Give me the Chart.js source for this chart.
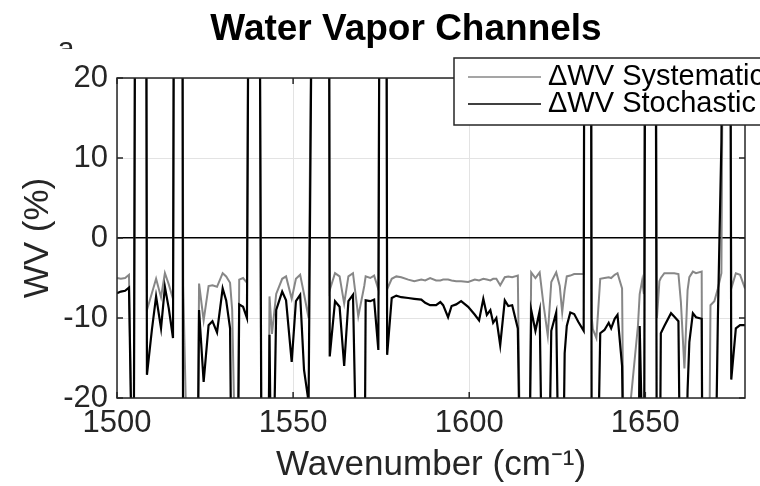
<!DOCTYPE html>
<html>
<head>
<meta charset="utf-8">
<title>Water Vapor Channels</title>
<script src="https://cdn.jsdelivr.net/npm/chart.js"></script>
<style>
  body { margin: 0; background: #fff; }
  canvas { display: block; }
</style>
</head>
<body>
<canvas id="wvGraph" width="760" height="486"></canvas>
<script>
// Channel wavenumbers (cm^-1) with the systematic and stochastic WV errors (%).
// +60 / -40 stand for channels that run far outside the plotted range.
const wavenumbers = [
  1500.0, 1501.1, 1502.3, 1503.4, 1504.7, 1505.3, 1508.2, 1508.5, 1509.9, 1511.1,
  1512.5, 1513.6, 1514.7, 1515.9, 1516.3, 1518.5, 1518.8, 1520.5, 1522.7, 1523.3,
  1524.6, 1526.0, 1527.1, 1528.4, 1530.0, 1531.0, 1532.1, 1532.7, 1534.1, 1534.7,
  1535.8, 1536.9, 1537.6, 1540.3, 1541.1, 1542.8, 1543.3, 1544.0, 1545.2, 1546.9,
  1548.0, 1549.6, 1550.8, 1552.0, 1553.1, 1554.4, 1555.8, 1560.1, 1560.4, 1561.9,
  1563.2, 1564.5, 1565.7, 1567.0, 1568.5, 1570.2, 1570.6, 1571.9, 1573.0, 1574.2,
  1574.7, 1576.4, 1576.7, 1578.0, 1579.3, 1580.7, 1582.7, 1584.4, 1586.4, 1587.5,
  1588.9, 1590.6, 1591.8, 1592.6, 1594.0, 1595.0, 1596.3, 1597.7, 1599.7, 1601.6,
  1602.8, 1604.0, 1605.0, 1606.0, 1606.8, 1607.7, 1608.8, 1610.1, 1611.1, 1612.2,
  1613.8, 1614.8, 1616.8, 1617.6, 1618.8, 1620.0, 1621.0, 1622.3, 1623.3, 1624.7,
  1625.7, 1626.4, 1627.1, 1627.7, 1628.7, 1629.8, 1631.0, 1632.5, 1632.8, 1634.5,
  1634.8, 1635.1, 1636.1, 1637.2, 1638.4, 1639.6, 1640.3, 1641.3, 1642.1, 1643.4,
  1644.1, 1645.7, 1647.9, 1648.4, 1649.1, 1649.6, 1650.1, 1652.8, 1653.3, 1654.0,
  1654.4, 1655.4, 1657.3, 1658.2, 1659.4, 1660.1, 1661.1, 1662.0, 1662.5, 1663.5,
  1664.4, 1666.0, 1666.3, 1668.2, 1668.5, 1669.6, 1670.6, 1671.6, 1672.4, 1674.0,
  1674.4, 1675.7, 1676.9, 1678.3,
];

const systematic = [
  -5.0, -5.1, -5.0, -4.6, -40, 60, 60, -9.0, -6.9, -5.1,
  -7.4, -4.4, -5.8, -7.6, 60, 60, -6.0, -40, -40, -5.7,
  -10.3, -6.0, -5.9, -6.1, -4.4, -4.8, -5.6, -9.0, -40, -5.2,
  -5.0, -5.6, 60, 60, -40, -40, -7.3, -12.0, -7.0, -5.1,
  -4.8, -7.6, -5.1, -4.6, -7.0, -10.0, 60, 60, -6.5, -4.4,
  -4.8, -8.2, -4.8, -4.4, -9.8, -6.0, -4.8, -5.0, -4.7, -6.4,
  60, 60, -6.4, -5.1, -4.8, -4.9, -5.2, -5.4, -5.2, -5.3,
  -5.0, -5.3, -5.3, -5.2, -5.2, -5.3, -5.4, -5.4, -5.5, -5.2,
  -5.3, -5.1, -5.2, -5.3, -5.1, -5.1, -5.9, -4.9, -4.8, -4.9,
  -4.7, -40, -40, -4.3, -5.0, -4.3, -8.0, -12.2, -5.5, -4.3,
  -6.0, -9.3, -6.5, -4.8, -4.7, -4.5, -4.5, -4.5, 60, 60,
  -10.0, -11.4, -12.5, -5.1, -5.0, -4.9, -5.0, -4.6, -4.4, -6.3,
  -40, -21.0, -11.0, -7.0, -5.3, -7.0, 60, 60, -10.0, -5.4,
  -5.0, -4.4, -4.4, -4.4, -4.5, -8.0, -16.3, -6.5, -4.9, -4.2,
  -4.4, -4.2, -40, -25.0, -8.4, -7.9, -6.3, -4.4, 60, 60,
  -6.3, -4.4, -4.6, -6.3,
];

const stochastic = [
  -6.9, -6.7, -6.6, -6.2, -40, 60, 60, -17.1, -11.5, -7.3,
  -11.3, -6.1, -8.8, -12.5, 60, 60, -40, -40, -40, -9.0,
  -18.0, -10.9, -10.4, -11.8, -6.3, -7.8, -11.3, -40, -40, -8.3,
  -8.6, -10.0, 60, 60, -40, -40, -12.1, -40, -9.0, -6.7,
  -7.8, -15.5, -7.9, -7.1, -16.5, -20.5, 60, 60, -14.8, -7.9,
  -8.6, -16.0, -7.9, -7.1, -40, -40, -7.8, -7.9, -7.7, -14.0,
  60, 60, -14.6, -7.5, -7.2, -7.4, -7.5, -7.6, -7.7, -8.1,
  -8.4, -8.4, -8.0, -8.4, -9.9, -8.5, -8.3, -7.9, -8.6, -9.6,
  -10.3, -7.6, -9.6, -9.0, -10.6, -10.0, -13.4, -7.8, -8.5, -8.4,
  -11.3, -40, -40, -9.0, -11.6, -9.1, -40, -40, -11.6, -9.3,
  -40, -40, -14.4, -11.0, -9.3, -9.5, -10.5, -11.6, 60, 60,
  -40, -40, -40, -11.9, -11.5, -10.6, -11.3, -10.1, -9.6, -16.0,
  -40, -40, -40, -11.0, -25.0, -40, 60, 60, -40, -40,
  -11.9, -11.0, -9.4, -9.8, -10.4, -40, -40, -19.0, -13.0, -9.4,
  -9.9, -10.1, -40, -40, -40, -40, -10.0, 12.0, 60, 60,
  -17.7, -11.3, -10.9, -10.9,
];

const xTicks = [1500, 1550, 1600, 1650];
const yTicks = [-20, -10, 0, 10, 20];
const xRange = [1500, 1678.3];
const yRange = [-20, 20];

const FONT = "Helvetica, Arial, 'Liberation Sans', sans-serif";
const AXIS_COLOR = "#262626";
const GRID_COLOR = "#e3e3e3";

// Pair each wavenumber with its value
function toPoints(values) {
  return wavenumbers.map((x, i) => ({ x: x, y: values[i] }));
}

// Title plus the clipped panel letter in the top left corner
const titlePlugin = {
  id: "plotTitle",
  afterDraw(chart) {
    const ctx = chart.ctx;
    ctx.save();
    ctx.fillStyle = "#000";
    ctx.font = "bold 37px " + FONT;
    ctx.textAlign = "center";
    ctx.textBaseline = "middle";
    ctx.fillText("Water Vapor Channels", 406, 30);

    ctx.beginPath();
    ctx.rect(40, 30, 50, 19);
    ctx.clip();
    ctx.font = "30px " + FONT;
    ctx.fillStyle = AXIS_COLOR;
    ctx.textBaseline = "alphabetic";
    ctx.fillText("a", 66, 58);
    ctx.restore();
  },
};

// Box round the axes with short inward tick marks on all four sides
const framePlugin = {
  id: "frame",
  afterDatasetsDraw(chart) {
    const { ctx, chartArea: a, scales } = chart;
    const len = 6;
    ctx.save();
    ctx.strokeStyle = AXIS_COLOR;
    ctx.lineWidth = 1.5;
    ctx.strokeRect(a.left, a.top, a.right - a.left, a.bottom - a.top);
    ctx.beginPath();
    xTicks.forEach((v) => {
      const px = scales.x.getPixelForValue(v);
      ctx.moveTo(px, a.bottom);
      ctx.lineTo(px, a.bottom - len);
      ctx.moveTo(px, a.top);
      ctx.lineTo(px, a.top + len);
    });
    yTicks.forEach((v) => {
      const py = scales.y.getPixelForValue(v);
      ctx.moveTo(a.left, py);
      ctx.lineTo(a.left + len, py);
      ctx.moveTo(a.right, py);
      ctx.lineTo(a.right - len, py);
    });
    ctx.stroke();
    ctx.restore();
  },
};

// Boxed legend in the upper right, running past the edge of the figure
const legendPlugin = {
  id: "boxLegend",
  afterDraw(chart) {
    const ctx = chart.ctx;
    const left = 454;
    const top = 58;
    const rowH = 27;
    ctx.save();
    ctx.fillStyle = "#fff";
    ctx.fillRect(left, top, 340, 67);
    ctx.strokeStyle = AXIS_COLOR;
    ctx.lineWidth = 1.5;
    ctx.strokeRect(left, top, 340, 67);
    ctx.font = "29px " + FONT;
    ctx.textBaseline = "middle";
    chart.data.datasets.forEach((ds, i) => {
      const y = top + 19 + i * rowH;
      ctx.strokeStyle = ds.borderColor;
      ctx.lineWidth = 1.5;
      ctx.beginPath();
      ctx.moveTo(468, y);
      ctx.lineTo(541, y);
      ctx.stroke();
      ctx.fillStyle = "#000";
      ctx.fillText(ds.label, 548, y);
    });
    ctx.restore();
  },
};

const ctx = document.getElementById("wvGraph").getContext("2d");
const wvChart = new Chart(ctx, {
  type: "line",
  data: {
    datasets: [
      {
        label: "\u0394WV Systematic",
        data: toPoints(systematic),
        borderColor: "#878787",
        borderWidth: 2,
        pointRadius: 0,
        tension: 0,
        order: 1, // keep the stochastic line on top
      },
      {
        label: "\u0394WV Stochastic",
        data: toPoints(stochastic),
        borderColor: "#000000",
        borderWidth: 2.2,
        pointRadius: 0,
        tension: 0,
        order: 0,
      },
    ],
  },
  options: {
    responsive: false,
    animation: false,
    devicePixelRatio: 1,
    layout: { padding: { top: 78, right: 15, bottom: 0, left: 0 } },
    plugins: {
      legend: { display: false },
      title: { display: false },
      tooltip: { enabled: false },
    },
    scales: {
      x: {
        type: "linear",
        min: xRange[0],
        max: xRange[1],
        afterBuildTicks: (scale) => {
          scale.ticks = xTicks.map((v) => ({ value: v }));
        },
        afterFit: (scale) => {
          scale.height = 88;
        },
        ticks: {
          color: AXIS_COLOR,
          font: { family: FONT, size: 31 },
          padding: 7,
          maxRotation: 0,
          callback: (v) => String(v),
        },
        grid: { color: GRID_COLOR, lineWidth: 1, drawTicks: false },
        border: { display: false },
        title: {
          display: true,
          text: "Wavenumber (cm\u207B\u00B9)",
          color: AXIS_COLOR,
          font: { family: FONT, size: 35 },
          padding: { top: 0, bottom: 0 },
        },
      },
      y: {
        min: yRange[0],
        max: yRange[1],
        afterBuildTicks: (scale) => {
          scale.ticks = yTicks.map((v) => ({ value: v }));
        },
        afterFit: (scale) => {
          scale.width = 117;
        },
        ticks: {
          color: AXIS_COLOR,
          font: { family: FONT, size: 31 },
          padding: 9,
          callback: (v) => String(v),
        },
        grid: {
          color: (c) => (c.tick && c.tick.value === 0 ? "#000" : GRID_COLOR),
          lineWidth: (c) => (c.tick && c.tick.value === 0 ? 1.5 : 1),
          drawTicks: false,
        },
        border: { display: false },
        title: {
          display: true,
          text: "WV (%)",
          color: AXIS_COLOR,
          font: { family: FONT, size: 35 },
          padding: { top: 17, bottom: 0 },
        },
      },
    },
  },
  plugins: [titlePlugin, framePlugin, legendPlugin],
});
</script>
</body>
</html>
